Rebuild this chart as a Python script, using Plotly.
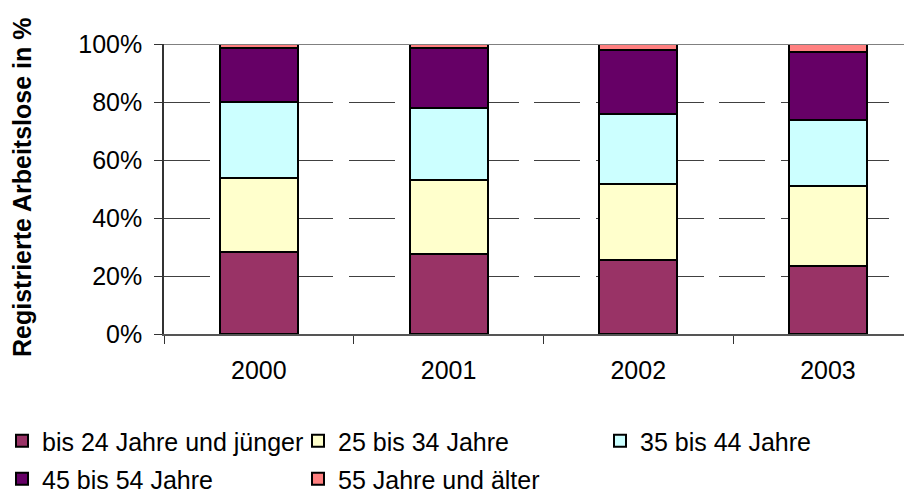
import plotly.graph_objects as go

years = ["2000", "2001", "2002", "2003"]
series_names = [
    "bis 24 Jahre und jünger",
    "25 bis 34 Jahre",
    "35 bis 44 Jahre",
    "45 bis 54 Jahre",
    "55 Jahre und älter",
]
s_bis24 = [28.4, 27.6, 25.5, 23.4]
s_25_34 = [25.5, 25.5, 26.1, 27.6]
s_35_44 = [26.1, 24.8, 24.2, 22.8]
s_45_54 = [18.5, 20.7, 22.1, 23.4]
s_55plus = [1.5, 1.4, 2.1, 2.8]
series_values = [s_bis24, s_25_34, s_35_44, s_45_54, s_55plus]
colors = ["#993366", "#FFFFCC", "#CCFFFF", "#660066", "#FF8080"]
y_ticks = [0, 20, 40, 60, 80, 100]
y_title = "Registrierte Arbeitslose in %"

FONT = "Liberation Sans, Arial, sans-serif"
# the page body has an 8px margin, so the figure is drawn 8px in from the window edge
W, H = 904, 483

cat_w = 189.7
plot_left, plot_top, plot_bottom = 156, 36, 326
plot_w = W - plot_left
plot_h = plot_bottom - plot_top

legend_ids = ["legend", "legend2", "legend3", "legend4", "legend5"]
# legend placement (figure px): left edge, vertical centre
legend_pos = [(-6, 433), (290, 433), (592, 433), (-6, 471), (290, 471)]

fig = go.Figure()
for name, vals, col, lid in zip(series_names, series_values, colors, legend_ids):
    fig.add_trace(go.Bar(
        x=years, y=vals, name=name, legend=lid,
        marker=dict(color=col, line=dict(color="#000000", width=2)),
        hoverinfo="skip",
    ))

layout_legends = {}
for lid, (lx, ly) in zip(legend_ids, legend_pos):
    layout_legends[lid] = dict(
        xref="paper", yref="container",
        x=(lx - plot_left) / plot_w, y=1 - ly / H, xanchor="left", yanchor="middle",
        font=dict(family=FONT, size=25, color="#000000"),
        bgcolor="rgba(0,0,0,0)", borderwidth=0, itemwidth=30,
        orientation="v",
    )

fig.update_layout(
    width=W, height=H,
    margin=dict(l=plot_left, r=0, t=plot_top, b=H - plot_bottom, pad=0, autoexpand=False),
    paper_bgcolor="#FFFFFF", plot_bgcolor="#FFFFFF",
    barmode="stack", bargap=0.589,
    font=dict(family=FONT, size=25, color="#000000"),
    showlegend=True,
    **layout_legends,
)
fig.update_xaxes(
    type="category",
    range=[-0.5, -0.5 + plot_w / cat_w],
    showline=True, linecolor="#555555", linewidth=1.5,
    ticks="outside", tickson="boundaries", ticklen=8, tickcolor="#333333", tickwidth=1,
    showgrid=False, zeroline=False,
    tickfont=dict(family=FONT, size=25, color="#000000"),
    ticklabelstandoff=13, tickangle=0, automargin=False,
)
fig.update_yaxes(
    range=[0, 100], tickvals=y_ticks, ticktext=[f"{v}%" for v in y_ticks],
    showline=True, linecolor="#333333", linewidth=1.5,
    ticks="outside", ticklen=8, tickcolor="#333333", tickwidth=1,
    showgrid=True, gridcolor="#404040", gridwidth=1, griddash="46px,15.7px",
    zeroline=False, automargin=False,
    tickfont=dict(family=FONT, size=25, color="#000000"),
    ticklabelstandoff=7,
)
fig.add_annotation(
    text=f"<b>{y_title}</b>", textangle=-90, showarrow=False,
    xref="paper", yref="paper",
    x=(14 - plot_left) / plot_w, y=(plot_bottom - 180) / plot_h,
    xanchor="center", yanchor="middle",
    font=dict(family=FONT, size=25, color="#000000"),
)
fig.add_shape(type="line", xref="paper", yref="y", x0=0, x1=1, y0=100, y1=100,
              line=dict(color="#808080", width=2), layer="above")

fig.write_html("out.html")
